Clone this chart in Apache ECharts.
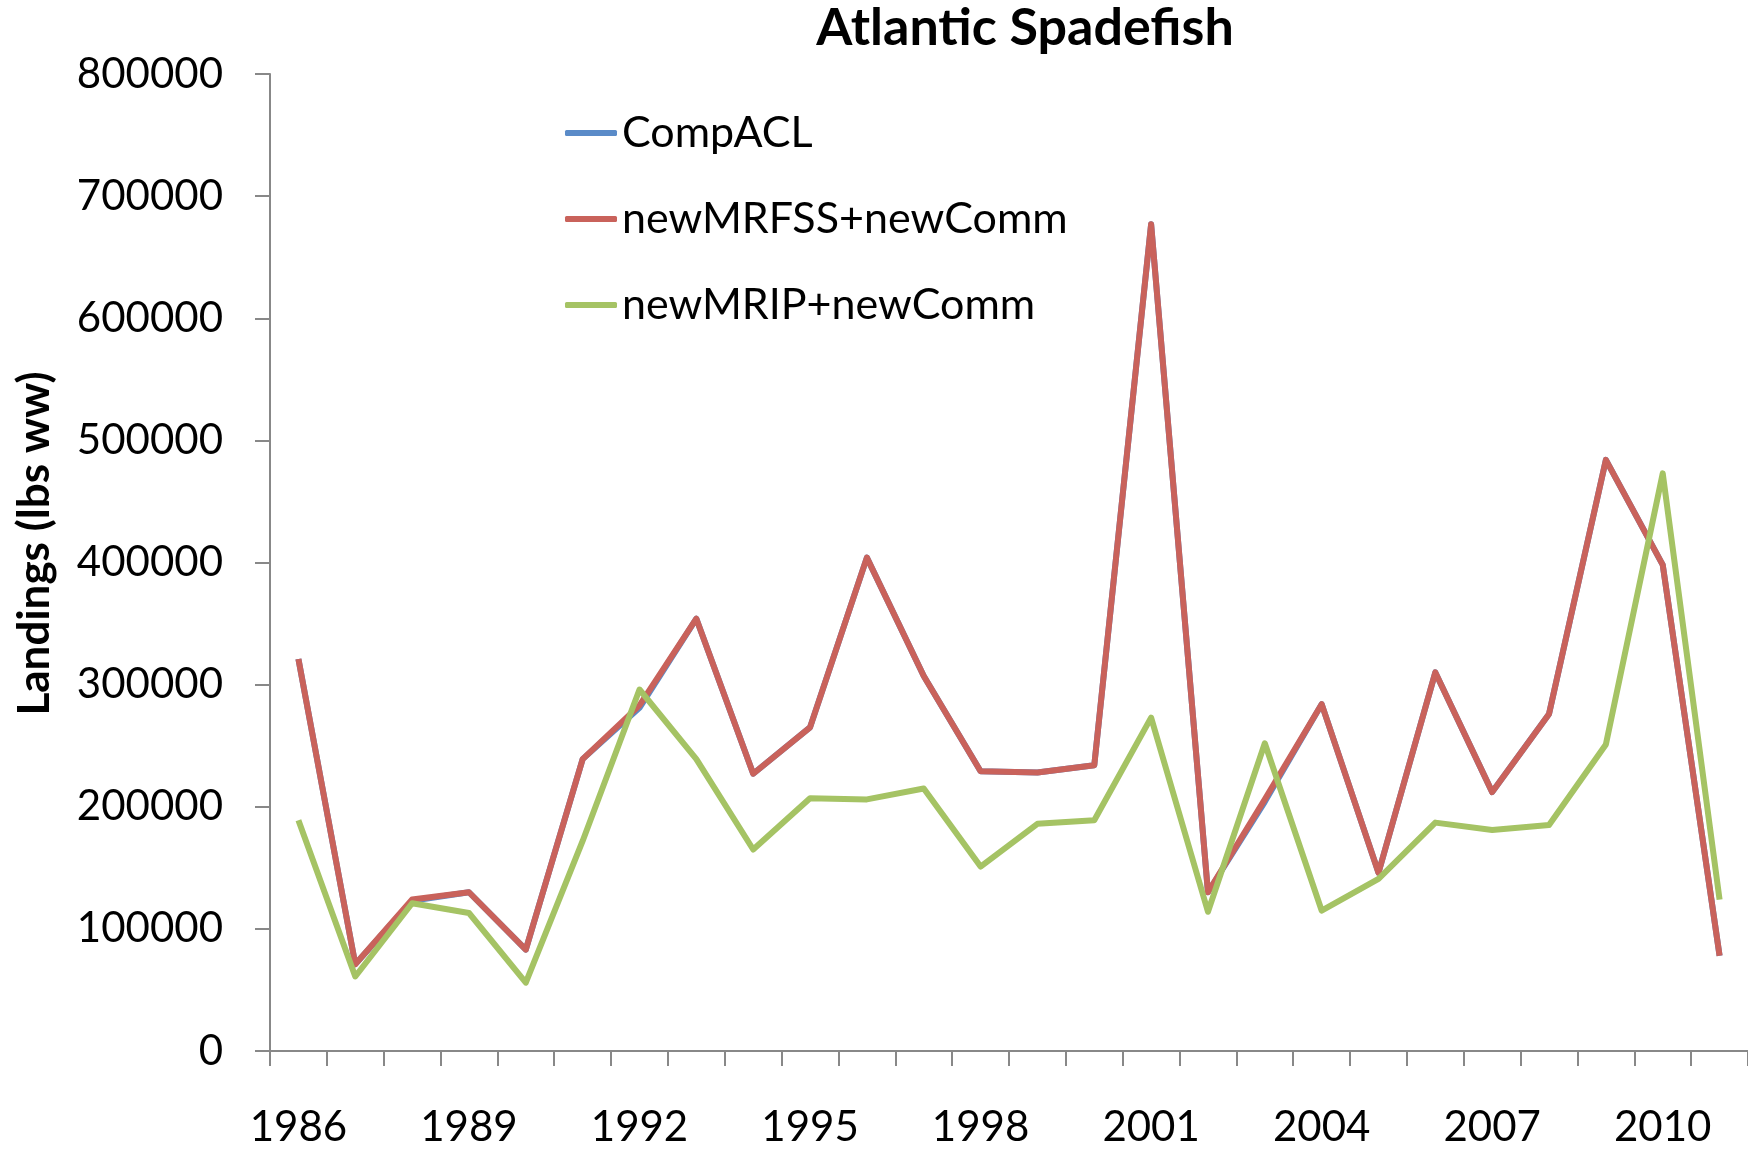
<!DOCTYPE html>
<html>
<head>
<meta charset="utf-8">
<script src="https://cdn.jsdelivr.net/npm/echarts@6/dist/echarts.min.js"></script>
<style>
  html, body { margin: 0; padding: 0; background: #fff; }
  #chart { width: 1748px; height: 1150px; }
</style>
</head>
<body>
<div id="chart"></div>
<script>
// years on the category axis
var years = ['1986', '1987', '1988', '1989', '1990', '1991', '1992', '1993', '1994', '1995',
  '1996', '1997', '1998', '1999', '2000', '2001', '2002', '2003', '2004', '2005',
  '2006', '2007', '2008', '2009', '2010', '2011'];

// CompACL sits under the red line almost everywhere
var compACL = [321000, 71000, 123000, 130000, 83000, 239000, 281000, 354000, 227000, 265000,
  404000, 307000, 229000, 228000, 234000, 677000, 130000, 204000, 284000, 146000,
  310000, 212000, 276000, 484000, 398000, 78000];
var newMRFSS = [321000, 71000, 124000, 130000, 83000, 239000, 283000, 354000, 227000, 265000,
  404000, 307000, 229000, 228000, 234000, 677000, 130000, 206000, 284000, 146000,
  310000, 212000, 276000, 484000, 398000, 78000];
var newMRIP = [189000, 61000, 121000, 113000, 56000, 172000, 296000, 239000, 165000, 207000,
  206000, 215000, 151000, 186000, 189000, 273000, 114000, 252000, 115000, 141000,
  187000, 181000, 185000, 251000, 473000, 124000];

var yTicks = [0, 100000, 200000, 300000, 400000, 500000, 600000, 700000, 800000];

var font = 'Lato, "Open Sans", sans-serif';
var axisGrey = '#888888';

var chart = echarts.init(document.getElementById('chart'));

function lineSeries(name, data, color) {
  return {
    name: name,
    type: 'line',
    data: data,
    symbol: 'none',
    color: color,
    lineStyle: { width: 6, color: color, join: 'round' },
    animation: false
  };
}

var option = {
  animation: false,
  backgroundColor: '#ffffff',
  textStyle: { fontFamily: font },
  title: {
    text: 'Atlantic Spadefish',
    left: 1020,
    textAlign: 'center',
    top: -3,
    textStyle: { fontFamily: font, fontSize: 52, fontWeight: 'bold', color: '#000' }
  },
  legend: {
    orient: 'vertical',
    left: 560,
    top: 106,
    itemWidth: 52,
    itemHeight: 6,
    itemGap: 42,
    icon: 'roundRect',
    textStyle: { fontFamily: font, fontSize: 43, color: '#000', lineHeight: 44 },
    data: ['CompACL', 'newMRFSS+newComm', 'newMRIP+newComm']
  },
  grid: {
    left: 270,
    top: 74,
    width: 1480,
    height: 977,
    containLabel: false
  },
  xAxis: {
    type: 'category',
    data: years,
    boundaryGap: true,
    axisLine: { lineStyle: { color: axisGrey, width: 2 } },
    axisTick: { show: true, length: 15, interval: 0, lineStyle: { color: axisGrey, width: 2 } },
    axisLabel: {
      interval: 2,
      margin: 55,
      fontFamily: font,
      fontSize: 42,
      color: '#000'
    },
    splitLine: { show: false }
  },
  yAxis: {
    type: 'value',
    min: yTicks[0],
    max: yTicks[yTicks.length - 1],
    interval: 100000,
    name: 'Landings (lbs ww)',
    nameLocation: 'middle',
    nameRotate: 90,
    nameGap: 213,
    nameTextStyle: {
      fontFamily: font,
      fontSize: 44,
      fontWeight: 'bold',
      color: '#000',
      padding: [0, 0, 0, 38]
    },
    axisLine: { show: true, lineStyle: { color: axisGrey, width: 2 } },
    axisTick: { show: true, inside: false, length: 15, lineStyle: { color: axisGrey, width: 2 } },
    axisLabel: {
      margin: 47,
      fontFamily: font,
      fontSize: 42,
      color: '#000',
      formatter: function (v) { return String(v); }
    },
    splitLine: { show: false }
  },
  series: [
    lineSeries('CompACL', compACL, '#5A8BC8'),
    lineSeries('newMRFSS+newComm', newMRFSS, '#C9625B'),
    lineSeries('newMRIP+newComm', newMRIP, '#A5C364')
  ]
};

chart.setOption(option);
</script>
</body>
</html>
